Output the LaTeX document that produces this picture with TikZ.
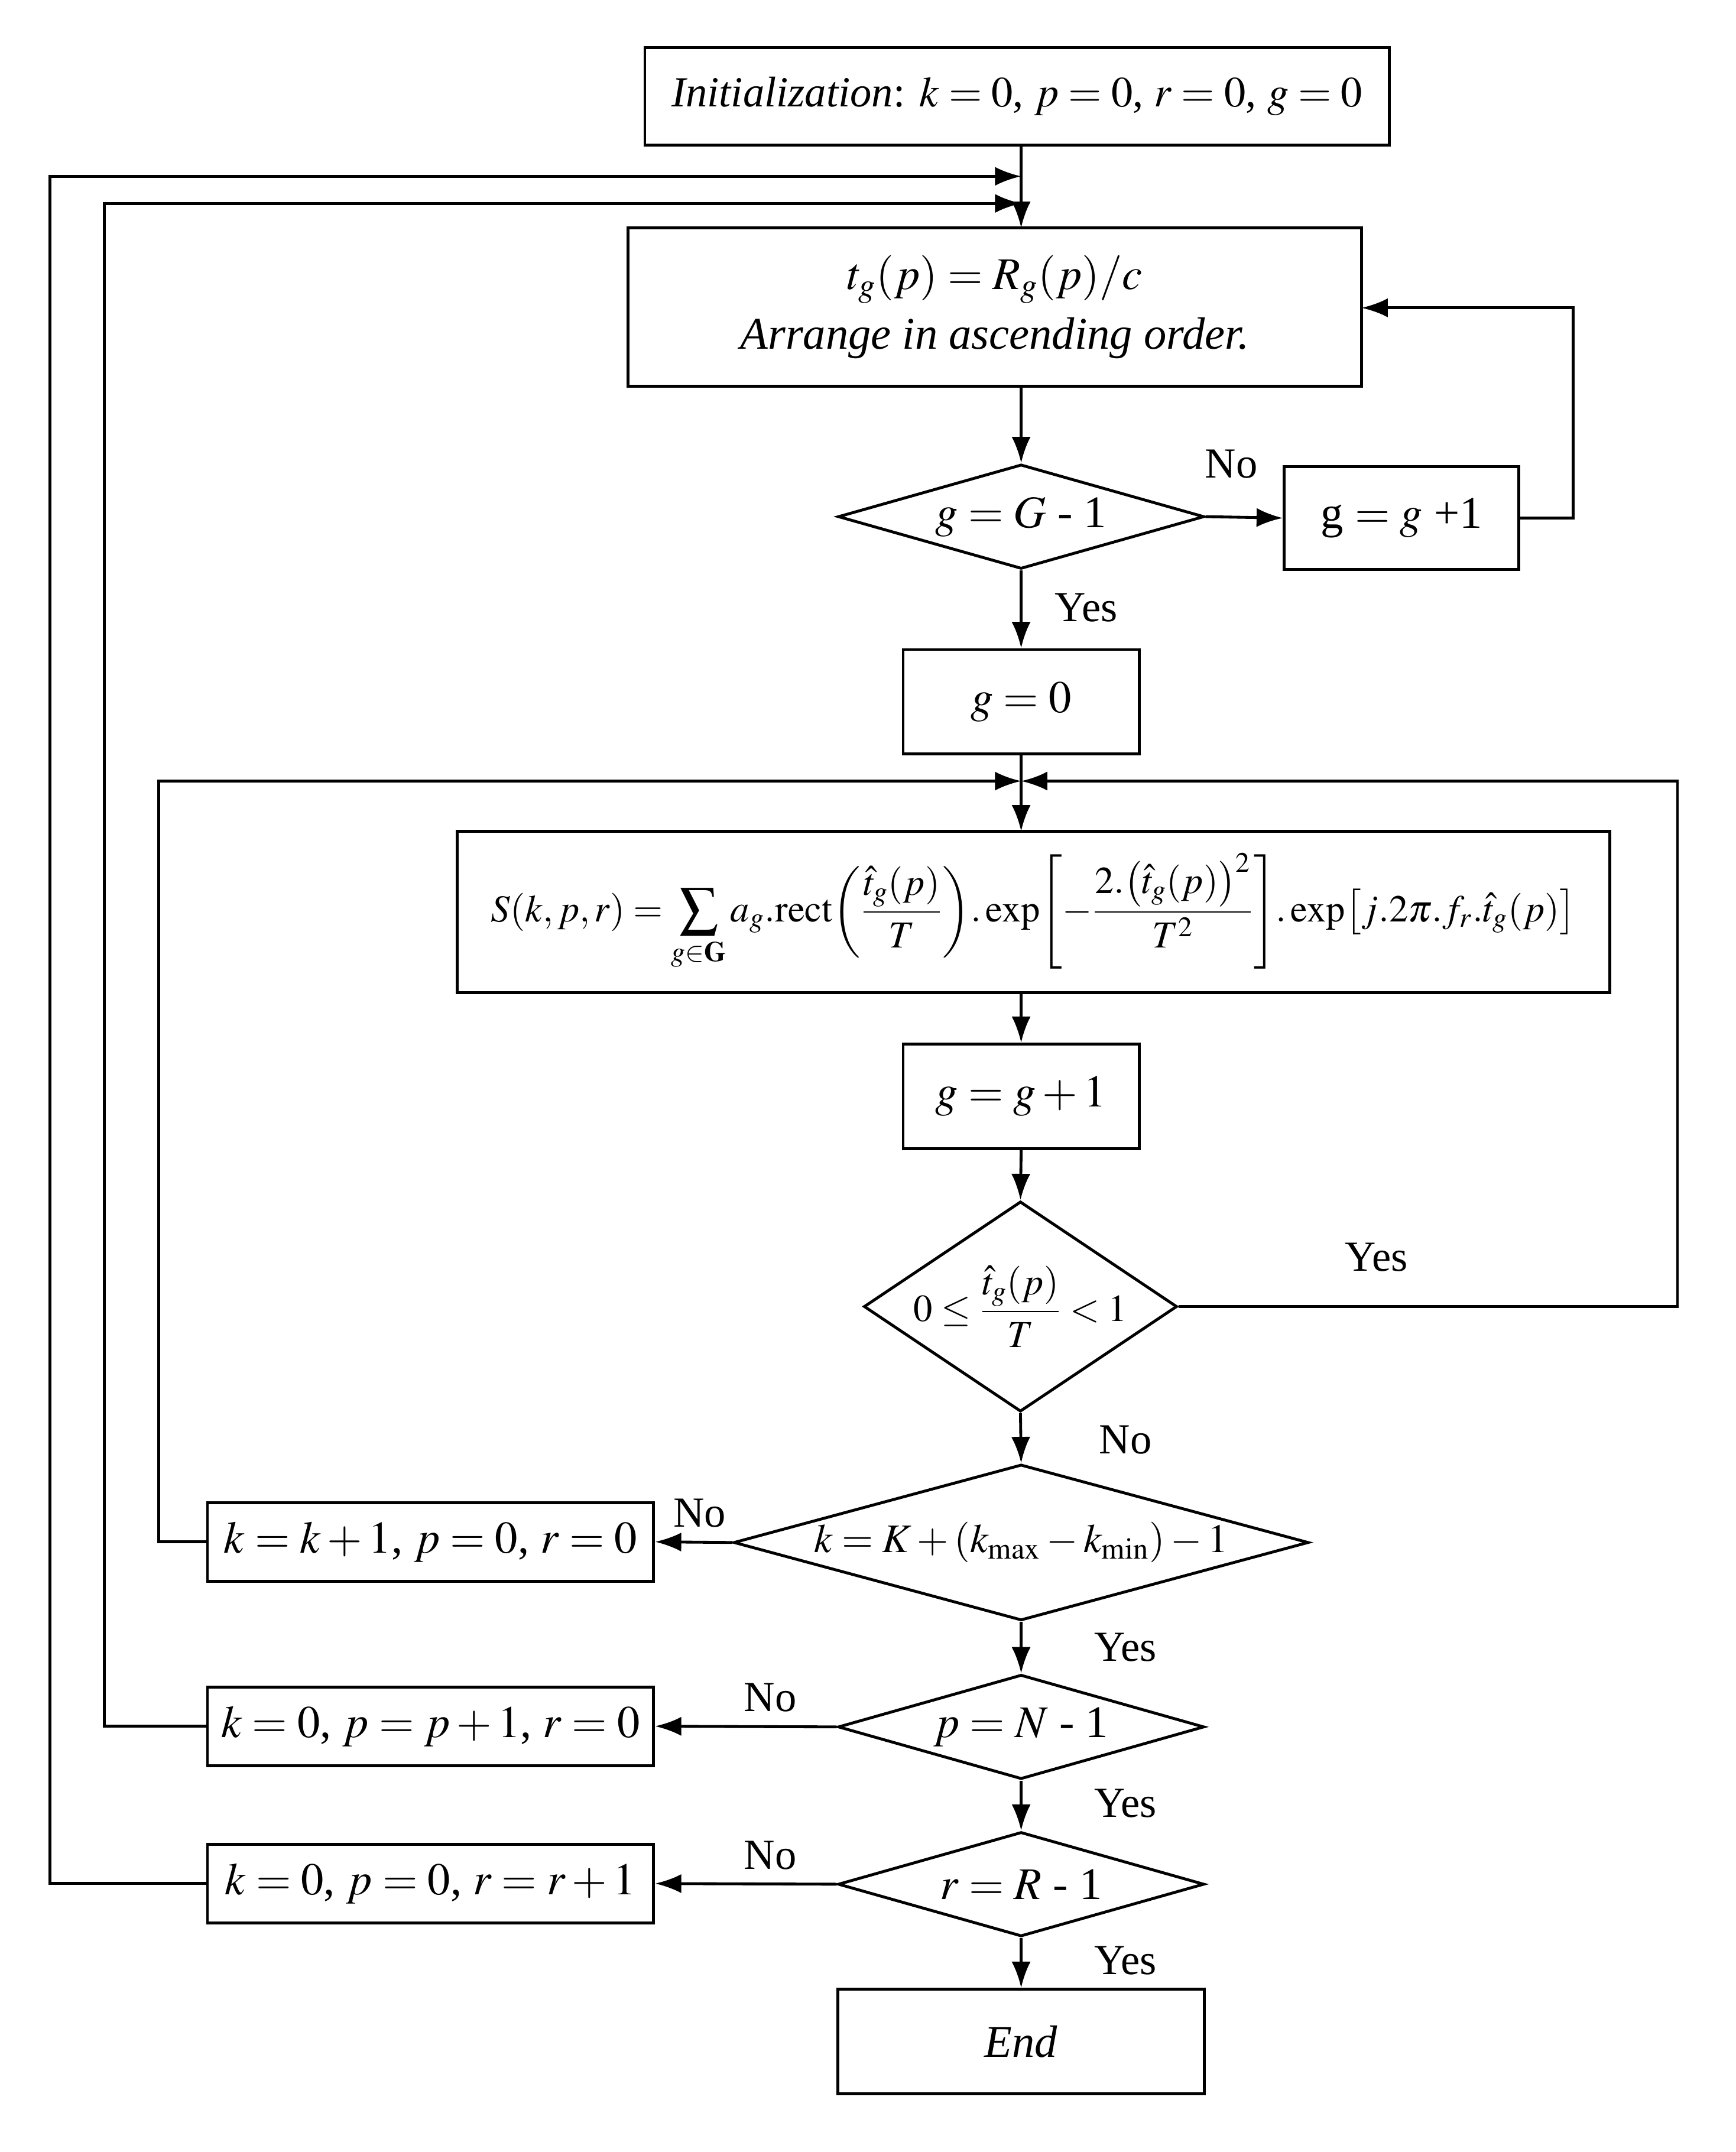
\documentclass[tikz,border=0pt]{standalone}
\usepackage{mathptmx}
\usepackage{fontspec}
\setmainfont{Liberation Serif}
\usetikzlibrary{shapes.geometric,arrows.meta}
\begin{document}
\begin{tikzpicture}[x=0.02cm,y=-0.02cm,
  every node/.style={font=\fontsize{19}{23}\selectfont},
  box/.style={draw,line width=1.2pt,inner sep=0pt},
  dia/.style={draw,diamond,line width=1.2pt,inner sep=0pt},
  lab/.style={font=\fontsize{18}{22}\selectfont},
  ln/.style={line width=1.2pt},
  ar/.style={line width=1.2pt,-{Latex[length=11pt,width=8pt]}}]
\useasboundingbox (0,0) rectangle (1280,1587);
\node[box,minimum width=549*0.02cm,minimum height=72*0.02cm,font=\fontsize{18}{22}\selectfont] (init) at (750,71) {\textit{Initialization}: $k=0$, $p=0$, $r=0$, $g=0$};
\node[box,minimum width=541*0.02cm,minimum height=117*0.02cm,align=center] (tb) at (733.5,226.5) {$t_g(p)=R_g(p)/c$\\[2pt]\textit{Arrange in ascending order.}};
\node[dia,minimum width=270*0.02cm,minimum height=77*0.02cm] (d1) at (753,381) {};
\node at (d1) {$g=G$ - 1};
\node[box,minimum width=173*0.02cm,minimum height=76*0.02cm] (b1) at (1033.5,382) {g $=g$ +1};
\node[box,minimum width=174*0.02cm,minimum height=77*0.02cm] (g0) at (753,517.5) {$g=0$};
\node[box,minimum width=850*0.02cm,minimum height=119*0.02cm,font=\fontsize{16}{19}\selectfont] (S) at (762,672.5) {$\displaystyle S(k,p,r)=\sum_{g\in\mathbf{G}} a_g.\mathrm{rect}\!\left(\frac{\hat t_g(p)}{T}\right)\!.\exp\!\left[-\frac{2.\big(\hat t_g(p)\big)^2}{T^2}\right]\!.\exp\!\big[j.2\pi.f_r.\hat t_g(p)\big]$};
\node[box,minimum width=174*0.02cm,minimum height=77*0.02cm] (g1) at (753,808.5) {$g=g+1$};
\node[dia,minimum width=231*0.02cm,minimum height=155*0.02cm] (d2) at (752.5,963.5) {};
\node[font=\fontsize{16}{19}\selectfont] at (d2) {$\displaystyle 0\le\frac{\hat t_g(p)}{T}<1$};
\node[dia,minimum width=424*0.02cm,minimum height=115*0.02cm] (d3) at (753,1137.5) {};
\node[font=\fontsize{17}{20}\selectfont] at (d3) {$k=K+(k_{\max}-k_{\min})-1$};
\node[box,minimum width=329*0.02cm,minimum height=58*0.02cm] (bk) at (317.5,1137) {$k=k+1$, $p=0$, $r=0$};
\node[dia,minimum width=270*0.02cm,minimum height=77*0.02cm] (d4) at (753,1273.5) {};
\node at (d4) {$p=N$ - 1};
\node[box,minimum width=329*0.02cm,minimum height=58*0.02cm] (bp) at (317.5,1273) {$k=0$, $p=p+1$, $r=0$};
\node[dia,minimum width=270*0.02cm,minimum height=77*0.02cm] (d5) at (753,1389.5) {};
\node at (d5) {$r=R$ - 1};
\node[box,minimum width=329*0.02cm,minimum height=58*0.02cm] (br) at (317.5,1389) {$k=0$, $p=0$, $r=r+1$};
\node[box,minimum width=270*0.02cm,minimum height=77*0.02cm] (end) at (753,1505.5) {\textit{End}};
% labels
\node[lab] at (908,342) {No};
\node[lab] at (801,448) {Yes};
\node[lab] at (1015,927) {Yes};
\node[lab] at (830,1062) {No};
\node[lab] at (516,1116) {No};
\node[lab] at (830,1215) {Yes};
\node[lab] at (568,1252) {No};
\node[lab] at (830,1330) {Yes};
\node[lab] at (568,1368) {No};
\node[lab] at (830,1446) {Yes};
% coordinates
\coordinate (j1) at (753,130);
\coordinate (j2) at (753,150);
\coordinate (tt) at (753,168);
\coordinate (tbot) at (753,285);
\coordinate (j3) at (753,576);
\coordinate (Stop) at (753,613);
\coordinate (Sbot) at (753,732);
\coordinate (tr) at (1004,227);
% main connectors
\draw[ar] (init.south -| j1) -- (tt);
\draw[ar] (tbot) -- (d1.north);
\draw[ar] (d1.east) -- (b1.west);
\draw[ar] (b1.east) -- (1160,382) -- (1160,227) -- (tr);
\draw[ar] (d1.south) -- (g0.north);
\draw[ln] (g0.south) -- (j3);
\draw[ar] (j3) -- (Stop);
\draw[ar] (Sbot) -- (g1.north);
\draw[ar] (g1.south) -- (d2.north);
\draw[ar] (d2.east) -- (1237,963.5) -- (1237,576) -- (j3);
\draw[ar] (d2.south) -- (d3.north);
\draw[ar] (d3.west) -- (bk.east);
\draw[ar] (bk.west) -- (117,1137) -- (117,576) -- (j3);
\draw[ar] (d3.south) -- (d4.north);
\draw[ar] (d4.west) -- (bp.east);
\draw[ar] (bp.west) -- (77,1273) -- (77,150) -- (j2);
\draw[ar] (d4.south) -- (d5.north);
\draw[ar] (d5.west) -- (br.east);
\draw[ar] (br.west) -- (37,1389) -- (37,130) -- (j1);
\draw[ar] (d5.south) -- (end.north);
\end{tikzpicture}
\end{document}
